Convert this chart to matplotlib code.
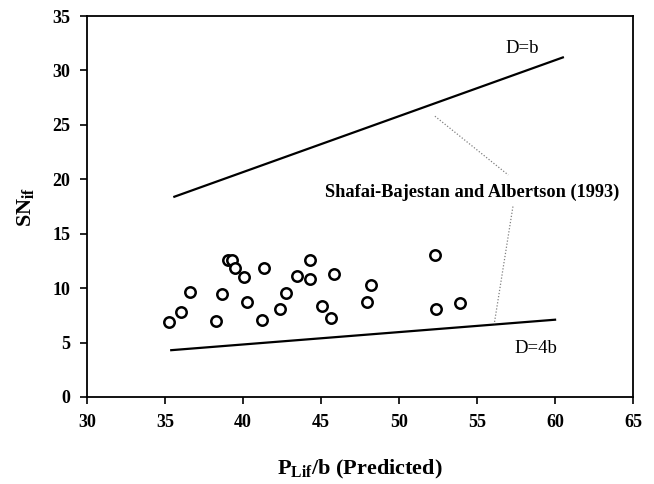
import matplotlib
matplotlib.use("Agg")
import matplotlib.pyplot as plt

x_obs = [35.24, 36.04, 36.60, 38.26, 38.64, 39.01, 39.28, 39.47, 40.08, 40.27,
         41.23, 41.36, 42.38, 42.78, 43.45, 44.30, 44.30, 45.08, 45.61, 45.80,
         47.94, 48.21, 52.30, 52.38, 53.90]
y_obs = [6.85, 7.83, 9.61, 6.97, 9.42, 12.60, 12.60, 11.87, 11.01, 8.75,
         7.10, 11.84, 8.08, 9.54, 11.13, 12.60, 10.83, 8.38, 7.22, 11.32,
         8.69, 10.28, 13.00, 8.11, 8.60]

# Reference lines (Shafai-Bajestan and Albertson, 1993)
x_db = [35.6, 60.5]
y_db = [18.4, 31.2]
x_d4b = [35.4, 60.0]
y_d4b = [4.3, 7.1]

xticks = [30, 35, 40, 45, 50, 55, 60, 65]
yticks = [0, 5, 10, 15, 20, 25, 30, 35]

plt.rcParams['font.family'] = ['Liberation Serif', 'DejaVu Serif']
plt.rcParams['mathtext.fontset'] = 'custom'
plt.rcParams['mathtext.rm'] = 'Liberation Serif'
plt.rcParams['mathtext.bf'] = 'Liberation Serif:bold'

fig = plt.figure(figsize=(6.54, 4.84), dpi=100)
ax = fig.add_axes([0.133, 0.1798, 0.835, 0.787])

ax.plot(x_db, y_db, color='black', lw=1.6)
ax.plot(x_d4b, y_d4b, color='black', lw=1.6)
ax.plot(x_obs, y_obs, linestyle='none', marker='o', markersize=7.5,
        markerfacecolor='white', markeredgecolor='black', markeredgewidth=1.8)

# annotation leader lines
ax.plot([52.3, 57.0], [25.8, 20.4], color='gray', lw=0.9, linestyle=(0, (1, 1.5)))
ax.plot([57.3, 56.1], [17.5, 6.7], color='gray', lw=0.9, linestyle=(0, (1, 1.5)))

ax.text(54.7, 18.8, 'Shafai-Bajestan and Albertson (1993)', ha='center', va='center',
        fontsize=13.2, fontweight='bold')
ax.text(57.9, 32.0, 'D=b', ha='center', va='center', fontsize=13.5)
ax.text(58.8, 4.5, 'D=4b', ha='center', va='center', fontsize=13.5)

ax.set_xlim(30, 65)
ax.set_ylim(0, 35)
ax.set_xticks(xticks)
ax.set_yticks(yticks)
ax.tick_params(direction='out', length=5, width=1.2, labelsize=13, pad=7)
for lab in ax.get_xticklabels() + ax.get_yticklabels():
    lab.set_fontweight('bold')
for sp in ax.spines.values():
    sp.set_linewidth(1.3)

ax.set_xlabel(r'$\mathbf{P_{Lif}}$/b (Predicted)', fontsize=16, fontweight='bold', labelpad=20)
ax.set_ylabel(r'$\mathbf{SN_{if}}$', fontsize=16, fontweight='bold', labelpad=12)

fig.savefig('out.png', dpi=100)
